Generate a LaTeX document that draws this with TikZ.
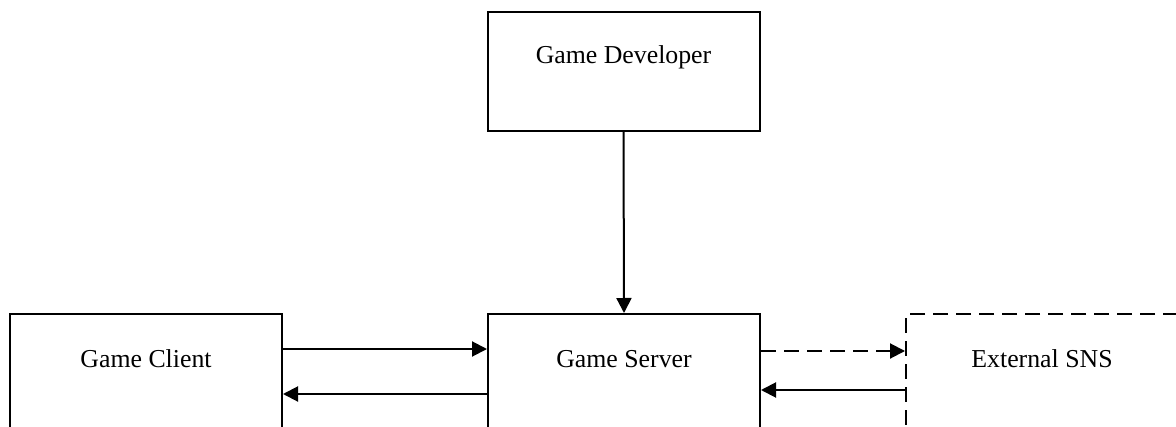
\documentclass[tikz,border=0pt]{standalone}
\usepackage{fontspec}
\setmainfont{Liberation Serif}
\usetikzlibrary{arrows.meta}
\begin{document}
\begin{tikzpicture}[x=0.5pt,y=-0.5pt,
  box/.style={draw,line width=1pt,minimum width=136pt,minimum height=59.5pt,inner sep=0pt},
  dbox/.style={box,dash pattern=on 7.5pt off 4pt},
  lbl/.style={font=\fontsize{12.9}{15}\selectfont},
  arr/.style={line width=1pt,-{Triangle[length=7.5pt,width=7.5pt]}},
  darr/.style={arr,dash pattern=on 7.5pt off 4pt}]
\useasboundingbox (0,0) rectangle (1176,427);
\clip (0,0) rectangle (1176,427);
\node[box,label={[lbl,anchor=center,yshift=-23pt]north:Game Developer}] (dev) at (623.5,71.5) {};
\node[box,label={[lbl,anchor=center,yshift=-23pt]north:Game Client}] (client) at (146,373.5) {};
\node[box,label={[lbl,anchor=center,yshift=-23pt]north:Game Server}] (server) at (624,373.5) {};
\node[dbox,label={[lbl,anchor=center,yshift=-23pt]north:External SNS}] (sns) at (1042,373.5) {};
\draw[arr] (dev.south) -- (server.north);
\draw[arr] ([yshift=12.25pt]client.east) -- ([yshift=12.25pt]server.west);
\draw[arr] ([yshift=-10.25pt]server.west) -- ([yshift=-10.25pt]client.east);
\draw[darr] ([yshift=11.25pt]server.east) -- ([yshift=11.25pt]sns.west);
\draw[arr] ([yshift=-8.25pt]sns.west) -- ([yshift=-8.25pt]server.east);
\end{tikzpicture}
\end{document}
